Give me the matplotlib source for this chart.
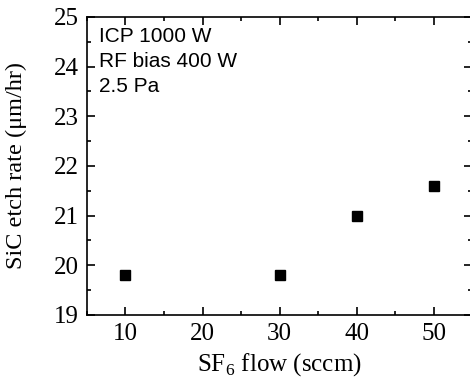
import matplotlib
matplotlib.use("Agg")
import matplotlib.pyplot as plt
from matplotlib.ticker import MultipleLocator

plt.rcParams["mathtext.fontset"] = "custom"
plt.rcParams["mathtext.rm"] = "Liberation Serif"

# SF6 flow vs SiC etch rate
flow = [10, 30, 40, 50]
etch_rate = [19.8, 19.8, 21.0, 21.6]
conditions = ["ICP 1000 W", "RF bias 400 W", "2.5 Pa"]

fig = plt.figure(figsize=(4.7, 3.85), dpi=100)
ax = fig.add_axes([0.185, 0.182, 0.82, 0.774])

ax.plot(flow, etch_rate, "s", color="black", markersize=7.5)

ax.set_xlim(5, 55)
ax.set_ylim(19, 25)
ax.xaxis.set_major_locator(MultipleLocator(10))
ax.xaxis.set_minor_locator(MultipleLocator(5))
ax.yaxis.set_major_locator(MultipleLocator(1))
ax.yaxis.set_minor_locator(MultipleLocator(0.5))
ax.tick_params(which="both", direction="in", top=True, right=True, width=1.2)
ax.tick_params(which="major", length=6, labelsize=18, pad=6)
ax.tick_params(which="minor", length=3)
for lab in ax.get_xticklabels() + ax.get_yticklabels():
    lab.set_family("Liberation Serif")
for s in ax.spines.values():
    s.set_linewidth(1.2)

ax.set_xlabel("SF$_6$ flow (sccm)", fontsize=18, family="Liberation Serif", labelpad=4)
ax.set_ylabel("SiC etch rate (\u03bcm/hr)", fontsize=17.5, family="Liberation Serif", labelpad=19)

ax.text(0.03, 0.965, "\n".join(conditions), transform=ax.transAxes, va="top", ha="left",
        fontsize=15, family="Liberation Sans", linespacing=1.38)

fig.savefig("out.png", dpi=100)
